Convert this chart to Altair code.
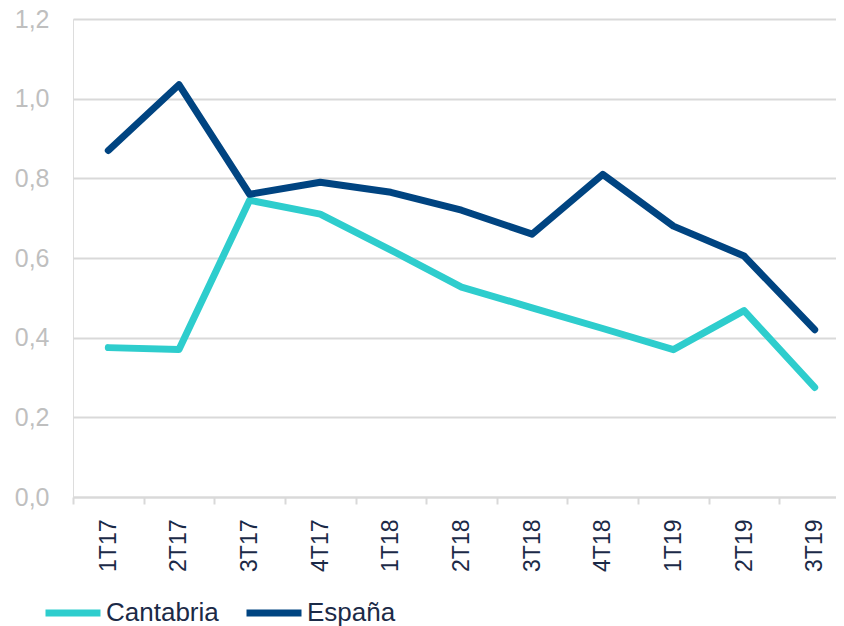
import altair as alt
import pandas as pd

quarters = ["1T17", "2T17", "3T17", "4T17", "1T18", "2T18", "3T18", "4T18", "1T19", "2T19", "3T19"]
cantabria = [0.375, 0.37, 0.745, 0.71, 0.62, 0.527, 0.475, 0.423, 0.37, 0.468, 0.275]
espana = [0.87, 1.035, 0.76, 0.79, 0.765, 0.72, 0.66, 0.81, 0.68, 0.605, 0.42]
series = ["Cantabria", "España"]
colors = ["#2ECDCD", "#004481"]

rows = []
for name, vals in zip(series, [cantabria, espana]):
    for q, v in zip(quarters, vals):
        rows.append({"trimestre": q, "valor": v, "serie": name})
df = pd.DataFrame(rows)

FONT = "Liberation Sans"
NAVY = "#1b2a47"

chart = (
    alt.Chart(df)
    .mark_line(strokeWidth=7, strokeCap="round", strokeJoin="round")
    .encode(
        x=alt.X(
            "trimestre:N",
            sort=quarters,
            bandPosition=0.5,
            scale=alt.Scale(type="band", paddingInner=0, paddingOuter=0, range=[0, 777]),
            axis=alt.Axis(
                title=None,
                labelAngle=-90,
                labelFontSize=23,
                labelColor=NAVY,
                labelFont=FONT,
                labelPadding=15,
                tickBand="extent",
                tickSize=7,
                tickColor="#d9d9d9",
                tickWidth=2,
                domainColor="#d9d9d9",
                domainWidth=2,
                grid=False,
            ),
        ),
        y=alt.Y(
            "valor:Q",
            scale=alt.Scale(domain=[0, 1.2], nice=False),
            axis=alt.Axis(
                title=None,
                values=[0, 0.2, 0.4, 0.6, 0.8, 1.0, 1.2],
                labelExpr="replace(format(datum.value, '.1f'), '.', ',')",
                labelFontSize=25,
                labelColor="#bfbfbf",
                labelFont=FONT,
                labelPadding=24,
                ticks=False,
                domain=False,
                grid=True,
                gridColor="#d9d9d9",
                gridWidth=2,
            ),
        ),
        color=alt.Color(
            "serie:N",
            sort=series,
            scale=alt.Scale(domain=series, range=colors),
            legend=alt.Legend(
                title=None,
                orient="none",
                direction="horizontal",
                legendX=-31,
                legendY=563,
                symbolType="stroke",
                symbolStrokeWidth=7,
                symbolSize=3025,
                labelFontSize=26,
                labelFont=FONT,
                labelColor=NAVY,
                labelOffset=2,
                columnPadding=13,
            ),
        ),
        order=alt.Order("serie:N"),
    )
    .properties(
        width=763,
        height=478,
        autosize=alt.AutoSizeParams(type="none"),
        padding={"left": 65, "top": 11, "right": 0, "bottom": 129},
    )
    .configure_view(stroke=None)
    .configure(background="white")
)

chart.save("out.html", embed_options={"renderer": "svg", "actions": False})
